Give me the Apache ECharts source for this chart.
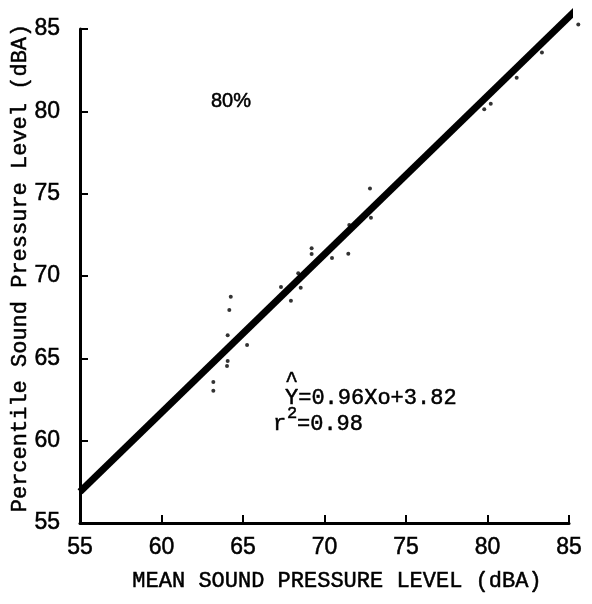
<!DOCTYPE html>
<html><head><meta charset="utf-8">
<script src="https://cdn.jsdelivr.net/npm/echarts@6/dist/echarts.min.js"></script>
<style>html,body{margin:0;padding:0;background:#fff}#c{width:592px;height:604px}</style>
</head><body><div id="c"></div>
<script>
const obsX = [68.39,67.33,68.54,67.94,64.25,64.16,64.06,65.25,64.06,64.02,63.18,63.18,72.79,72.85,71.52,69.21,69.21,70.46,71.46,85.57,83.34,81.79,80.2,79.8];
const obsY = [70.16,69.33,69.29,68.50,68.74,67.93,66.40,65.81,64.84,64.53,63.56,63.03,75.32,73.54,73.09,71.68,71.33,71.09,71.35,85.28,83.58,82.04,80.46,80.12];
const fitX = [55, 85.55];
const fitY = [56.9, 86.27];
const tickValues = [55,60,65,70,75,80,85];
const xTitle = 'MEAN SOUND PRESSURE LEVEL (dBA)';
const yTitle = 'Percentile Sound Pressure Level (dBA)';
const pctLabel = '80%';
const eqText = 'Y=0.96Xo+3.82';
const r2Text = '=0.98';

const chart = echarts.init(document.getElementById('c'), null, {renderer:'canvas'});
const axisCommon = {
  type:'value', min:55, max:85, interval:5,
  axisLine:{show:true, onZero:false, lineStyle:{color:'#000', width:3}},
  axisTick:{show:true, inside:true, length:8, lineStyle:{color:'#000', width:2}},
  splitLine:{show:false},
  axisLabel:{color:'#000', fontSize:23, fontFamily:'Liberation Sans',
    textBorderColor:'#000', textBorderWidth:0.5,
    formatter:v=> tickValues.includes(v) ? String(v) : ''}
};
function txt(x, y, text, size, family, extra){
  return {type:'text', x:x, y:y, rotation:(extra&&extra.rotation)||0,
    style:{text:text, font: size + 'px "' + family + '"', fill:'#000', stroke:'#000', lineWidth:0.5,
      align:(extra&&extra.align)||'left', verticalAlign:'middle'}};
}
chart.setOption({
  animation:false,
  backgroundColor:'#fff',
  grid:{left:80, right:23, top:29, bottom:81, containLabel:false},
  xAxis:Object.assign({}, axisCommon, {axisLabel:Object.assign({}, axisCommon.axisLabel, {margin:13})}),
  yAxis:Object.assign({}, axisCommon, {axisLabel:Object.assign({}, axisCommon.axisLabel, {margin:20})}),
  series:[
    {type:'line', data:fitX.map((x,i)=>[x,fitY[i]]), symbol:'none', clip:false,
     lineStyle:{color:'#000', width:7}},
    {type:'scatter', data:obsX.map((x,i)=>[x,obsY[i]]), symbol:'circle', symbolSize:4, clip:false,
     itemStyle:{color:'#000'}}
  ],
  graphic:[
    txt(20, 268, yTitle, 22, 'Liberation Mono', {rotation:Math.PI/2, align:'center'}),
    txt(337, 581, xTitle, 22, 'Liberation Mono', {align:'center'}),
    txt(211, 101, pctLabel, 20, 'Liberation Sans'),
    txt(285, 398, eqText, 22, 'Liberation Mono'),
    txt(285, 381, '^', 22, 'Liberation Mono'),
    txt(273, 424, 'r', 22, 'Liberation Mono'),
    txt(287, 413, '2', 17, 'Liberation Mono'),
    txt(297, 424, r2Text, 22, 'Liberation Mono')
  ]
});
</script></body></html>
